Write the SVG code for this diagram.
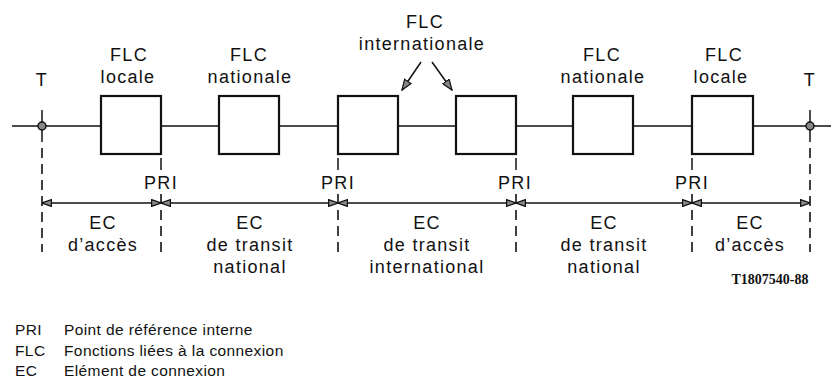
<svg xmlns="http://www.w3.org/2000/svg" width="831" height="390" viewBox="0 0 831 390">
<defs>
<style>
.t{font-family:"Liberation Sans",Arial,sans-serif;font-size:18px;letter-spacing:1.3px;fill:#111;text-anchor:middle}
.lg{font-family:"Liberation Sans",Arial,sans-serif;font-size:15.5px;letter-spacing:0.4px;fill:#111}
.box{fill:#fff;stroke:#111;stroke-width:2.2}
.ln{stroke:#111;stroke-width:1.5;fill:none}
.dash{stroke:#111;stroke-width:1.6;stroke-dasharray:10 6;fill:none}
.dim{stroke:#111;stroke-width:1.3;fill:none;marker-start:url(#ah);marker-end:url(#ah)}
.ptr{stroke:#111;stroke-width:1.5;fill:none;marker-end:url(#ah2)}
.ref{font-family:"Liberation Serif","Times New Roman",serif;font-size:14px;font-weight:bold;fill:#111;text-anchor:middle}
</style>
<marker id="ah" viewBox="0 0 10 8" refX="10" refY="4" markerWidth="10" markerHeight="8" markerUnits="userSpaceOnUse" orient="auto-start-reverse">
<path d="M0.6,0.6 L10,4 L0.6,7.4 Z" fill="#888" stroke="#111" stroke-width="1.2"/>
</marker>
<marker id="ah2" viewBox="0 0 12 9" refX="11" refY="4.5" markerWidth="12" markerHeight="9" markerUnits="userSpaceOnUse" orient="auto">
<path d="M0.6,0.6 L11,4.5 L0.6,8.4 Z" fill="#888" stroke="#111" stroke-width="1.2"/>
</marker>
</defs>
<rect width="831" height="390" fill="#fff"/>

<g id="connectors">
<line class="ln" x1="12" y1="126" x2="831" y2="126"/>
<line class="ln" x1="42" y1="110" x2="42" y2="142"/>
<line class="ln" x1="810" y1="110" x2="810" y2="142"/>
<line class="dash" x1="42" y1="148" x2="42" y2="252"/>
<line class="dash" x1="810" y1="148" x2="810" y2="252"/>
<line class="ln" x1="161" y1="158" x2="161" y2="170"/>
<line class="ln" x1="338" y1="158" x2="338" y2="170"/>
<line class="ln" x1="516" y1="158" x2="516" y2="170"/>
<line class="ln" x1="692" y1="158" x2="692" y2="170"/>
<line class="dash" x1="161" y1="194" x2="161" y2="252"/>
<line class="dash" x1="338" y1="194" x2="338" y2="252"/>
<line class="dash" x1="516" y1="194" x2="516" y2="252"/>
<line class="dash" x1="692" y1="194" x2="692" y2="252"/>
<line class="dim" x1="42" y1="203" x2="161" y2="203"/>
<line class="dim" x1="161" y1="203" x2="338" y2="203"/>
<line class="dim" x1="338" y1="203" x2="516" y2="203"/>
<line class="dim" x1="516" y1="203" x2="692" y2="203"/>
<line class="dim" x1="692" y1="203" x2="810" y2="203"/>
<line class="ptr" x1="421" y1="62" x2="402" y2="90"/>
<line class="ptr" x1="432" y1="62" x2="452" y2="90"/>
</g>

<g id="T-left">
<circle cx="42" cy="126" r="4" fill="#888" stroke="#111" stroke-width="1.5"/>
<text class="t" x="42" y="86">T</text>
</g>
<g id="T-right">
<circle cx="810" cy="126" r="4" fill="#888" stroke="#111" stroke-width="1.5"/>
<text class="t" x="810" y="86">T</text>
</g>

<g id="flc-locale-1">
<rect class="box" x="101" y="96" width="60" height="58"/>
<text class="t" x="129" y="61">FLC</text>
<text class="t" x="128" y="83">locale</text>
</g>
<g id="flc-nationale-1">
<rect class="box" x="219" y="96" width="60" height="58"/>
<text class="t" x="249" y="61">FLC</text>
<text class="t" x="250" y="83">nationale</text>
</g>
<g id="flc-internationale-1">
<rect class="box" x="338" y="96" width="60" height="58"/>
</g>
<g id="flc-internationale-2">
<rect class="box" x="456" y="96" width="60" height="58"/>
</g>
<g id="flc-internationale-label">
<text class="t" x="425" y="28">FLC</text>
<text class="t" x="422" y="50">internationale</text>
</g>
<g id="flc-nationale-2">
<rect class="box" x="573" y="96" width="60" height="58"/>
<text class="t" x="602" y="61">FLC</text>
<text class="t" x="603" y="83">nationale</text>
</g>
<g id="flc-locale-2">
<rect class="box" x="692" y="96" width="61" height="58"/>
<text class="t" x="724" y="61">FLC</text>
<text class="t" x="721" y="83">locale</text>
</g>

<g id="pri-labels">
<text class="t" x="161" y="189">PRI</text>
<text class="t" x="338" y="189">PRI</text>
<text class="t" x="515" y="189">PRI</text>
<text class="t" x="692" y="189">PRI</text>
</g>

<g id="ec-1">
<text class="t" x="103" y="229">EC</text>
<text class="t" x="103" y="251">d’accès</text>
</g>
<g id="ec-2">
<text class="t" x="250" y="229">EC</text>
<text class="t" x="250" y="251">de transit</text>
<text class="t" x="250" y="273">national</text>
</g>
<g id="ec-3">
<text class="t" x="427" y="229">EC</text>
<text class="t" x="427" y="251">de transit</text>
<text class="t" x="427" y="273">international</text>
</g>
<g id="ec-4">
<text class="t" x="604" y="229">EC</text>
<text class="t" x="604" y="251">de transit</text>
<text class="t" x="604" y="273">national</text>
</g>
<g id="ec-5">
<text class="t" x="750" y="229">EC</text>
<text class="t" x="750" y="251">d’accès</text>
</g>

<text class="ref" x="770" y="284">T1807540-88</text>

<g id="legend">
<text class="lg" x="15" y="335">PRI</text>
<text class="lg" x="64" y="335">Point de référence interne</text>
<text class="lg" x="15" y="356">FLC</text>
<text class="lg" x="64" y="356">Fonctions liées à la connexion</text>
<text class="lg" x="15" y="376">EC</text>
<text class="lg" x="64" y="376">Elément de connexion</text>
</g>
</svg>
